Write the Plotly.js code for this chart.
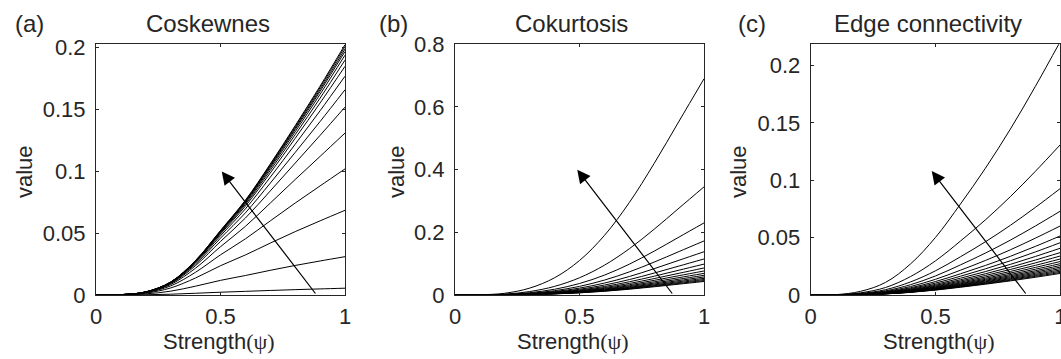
<!DOCTYPE html>
<html><head><meta charset="utf-8">
<script src="https://cdn.plot.ly/plotly-3.0.1.min.js"></script>
<style>html,body{margin:0;padding:0;background:#fff;}#chart{width:1061px;height:359px;}</style>
</head><body><div id="chart"></div>
<script>
// ---------- data ----------
const psi = [0, 0.1, 0.2, 0.3, 0.4, 0.5, 0.6, 0.7, 0.8, 0.9, 1];

const coskewCurves = [
  [0, 0.00004, 0.0002, 0.00064, 0.00141, 0.00226, 0.00295, 0.00367, 0.00433, 0.00493, 0.0055],
  [0, 0.00014, 0.0009, 0.0031, 0.00715, 0.01184, 0.01576, 0.01997, 0.02391, 0.02753, 0.031],
  [0, 0.00022, 0.00153, 0.0057, 0.01379, 0.02368, 0.0324, 0.042, 0.05127, 0.05999, 0.0685],
  [0, 0.00025, 0.0019, 0.00737, 0.01843, 0.03249, 0.04543, 0.05998, 0.07437, 0.08825, 0.102],
  [0, 0.00027, 0.00212, 0.0085, 0.02175, 0.03907, 0.05552, 0.07438, 0.09341, 0.11214, 0.131],
  [0, 0.00028, 0.00226, 0.00919, 0.02383, 0.04333, 0.06225, 0.08421, 0.1067, 0.12915, 0.152],
  [0, 0.00029, 0.00233, 0.00959, 0.02509, 0.04597, 0.06648, 0.0905, 0.11532, 0.14033, 0.166],
  [0, 0.00029, 0.00239, 0.00988, 0.02602, 0.04794, 0.06968, 0.0953, 0.12197, 0.14905, 0.177],
  [0, 0.00029, 0.00243, 0.01009, 0.02667, 0.04933, 0.07194, 0.09873, 0.12675, 0.15535, 0.185],
  [0, 0.0003, 0.00245, 0.01021, 0.02706, 0.05017, 0.07333, 0.10083, 0.1297, 0.15926, 0.19],
  [0, 0.0003, 0.00247, 0.01031, 0.02737, 0.05083, 0.07442, 0.1025, 0.13206, 0.16239, 0.194],
  [0, 0.0003, 0.00248, 0.01038, 0.02759, 0.05132, 0.07523, 0.10375, 0.13381, 0.16473, 0.197],
  [0, 0.0003, 0.00249, 0.01042, 0.02774, 0.05164, 0.07577, 0.10457, 0.13497, 0.16628, 0.199],
  [0, 0.0003, 0.00249, 0.01047, 0.02789, 0.05196, 0.0763, 0.10539, 0.13613, 0.16783, 0.201],
  [0, 0.0003, 0.0025, 0.0105, 0.028, 0.0522, 0.0767, 0.106, 0.137, 0.169, 0.2025]
];

const cokurtCurves = [
  [0, 0.0007, 0.0055, 0.022, 0.055, 0.11, 0.19, 0.295, 0.42, 0.555, 0.69],
  [0, 0.00035, 0.00275, 0.011, 0.0275, 0.055, 0.095, 0.1475, 0.21, 0.2775, 0.345],
  [0, 0.00023, 0.00183, 0.00733, 0.01833, 0.03667, 0.06333, 0.09833, 0.14, 0.185, 0.23],
  [0, 0.00018, 0.00138, 0.0055, 0.01375, 0.0275, 0.0475, 0.07375, 0.105, 0.13875, 0.1725],
  [0, 0.00014, 0.0011, 0.0044, 0.011, 0.022, 0.038, 0.059, 0.084, 0.111, 0.138],
  [0, 0.00012, 0.00092, 0.00367, 0.00917, 0.01833, 0.03167, 0.04917, 0.07, 0.0925, 0.115],
  [0, 0.0001, 0.00079, 0.00314, 0.00786, 0.01571, 0.02714, 0.04214, 0.06, 0.07929, 0.09857],
  [0, 0.00009, 0.00069, 0.00275, 0.00688, 0.01375, 0.02375, 0.03688, 0.0525, 0.06938, 0.08625],
  [0, 0.00008, 0.00061, 0.00244, 0.00611, 0.01222, 0.02111, 0.03278, 0.04667, 0.06167, 0.07667],
  [0, 0.00007, 0.00055, 0.0022, 0.0055, 0.011, 0.019, 0.0295, 0.042, 0.0555, 0.069],
  [0, 0.00006, 0.0005, 0.002, 0.005, 0.01, 0.01727, 0.02682, 0.03818, 0.05045, 0.06273],
  [0, 0.00006, 0.00046, 0.00183, 0.00458, 0.00917, 0.01583, 0.02458, 0.035, 0.04625, 0.0575],
  [0, 0.00005, 0.00042, 0.00169, 0.00423, 0.00846, 0.01462, 0.02269, 0.03231, 0.04269, 0.05308],
  [0, 0.00005, 0.00039, 0.00157, 0.00393, 0.00786, 0.01357, 0.02107, 0.03, 0.03964, 0.04929],
  [0, 0.00005, 0.00037, 0.00147, 0.00367, 0.00733, 0.01267, 0.01967, 0.028, 0.037, 0.046],
  [0, 0.00004, 0.00034, 0.00138, 0.00344, 0.00688, 0.01188, 0.01844, 0.02625, 0.03469, 0.04313]
];

const edgeCurves = [
  [0, 0.0003, 0.0032, 0.011, 0.0271, 0.0502, 0.0793, 0.1105, 0.1446, 0.1818, 0.221],
  [0, 0.00018, 0.0019, 0.00655, 0.01607, 0.02978, 0.04703, 0.0655, 0.08574, 0.10777, 0.131],
  [0, 0.00013, 0.00135, 0.00464, 0.01139, 0.02109, 0.03332, 0.0464, 0.06074, 0.07635, 0.0928],
  [0, 0.0001, 0.00106, 0.00366, 0.00897, 0.01662, 0.02624, 0.03655, 0.04784, 0.06014, 0.0731],
  [0, 0.00008, 0.00087, 0.00301, 0.00739, 0.01368, 0.02161, 0.0301, 0.0394, 0.04953, 0.0602],
  [0, 0.00007, 0.00075, 0.00258, 0.00632, 0.01171, 0.01849, 0.02575, 0.03371, 0.04237, 0.0515],
  [0, 0.00006, 0.00066, 0.00228, 0.0056, 0.01036, 0.01637, 0.0228, 0.02985, 0.03752, 0.0456],
  [0, 0.00006, 0.00059, 0.00204, 0.00501, 0.00927, 0.01465, 0.0204, 0.0267, 0.03357, 0.0408],
  [0, 0.00005, 0.00054, 0.00185, 0.00454, 0.00841, 0.01328, 0.0185, 0.02422, 0.03044, 0.037],
  [0, 0.00005, 0.00049, 0.0017, 0.00417, 0.00773, 0.01221, 0.017, 0.02225, 0.02797, 0.034],
  [0, 0.00004, 0.00046, 0.00157, 0.00385, 0.00714, 0.01127, 0.0157, 0.02055, 0.02583, 0.0314],
  [0, 0.00004, 0.00042, 0.00146, 0.00358, 0.00664, 0.01048, 0.0146, 0.01911, 0.02402, 0.0292],
  [0, 0.00004, 0.0004, 0.00137, 0.00335, 0.00621, 0.0098, 0.01365, 0.01787, 0.02246, 0.0273],
  [0, 0.00004, 0.00037, 0.00129, 0.00315, 0.00584, 0.00923, 0.01285, 0.01682, 0.02114, 0.0257],
  [0, 0.00003, 0.00035, 0.00122, 0.00298, 0.00552, 0.00872, 0.01215, 0.0159, 0.01999, 0.0243],
  [0, 0.00003, 0.00033, 0.00115, 0.00282, 0.00523, 0.00826, 0.0115, 0.01505, 0.01892, 0.023],
  [0, 0.00003, 0.00032, 0.00109, 0.00267, 0.00496, 0.00783, 0.0109, 0.01427, 0.01793, 0.0218],
  [0, 0.00003, 0.0003, 0.00104, 0.00254, 0.00471, 0.00743, 0.01035, 0.01355, 0.01703, 0.0207],
  [0, 0.00003, 0.00029, 0.00099, 0.00242, 0.00448, 0.00707, 0.00985, 0.01289, 0.01621, 0.0197],
  [0, 0.00003, 0.00027, 0.00094, 0.00231, 0.00427, 0.00675, 0.0094, 0.0123, 0.01547, 0.0188]
];

// arrows: [tail x, tail y], [head x, head y] in data units
const arrowTailA = [0.886, 0], arrowHeadA = [0.505, 0.1];
const arrowTailB = [0.877, 0], arrowHeadB = [0.491, 0.4];
const arrowTailC = [0.866, 0], arrowHeadC = [0.485, 0.108];

const panelLabels = ['(a)', '(b)', '(c)'];
const panelTitles = ['Coskewnes', 'Cokurtosis', 'Edge connectivity'];
const xTickVals = [0, 0.5, 1];
const xTickText = ['0', '0.5', '1'];
const yTickValsA = [0, 0.05, 0.1, 0.15, 0.2];
const yTickTextA = ['0', '0.05', '0.1', '0.15', '0.2'];
const yTickValsB = [0, 0.2, 0.4, 0.6, 0.8];
const yTickTextB = ['0', '0.2', '0.4', '0.6', '0.8'];
const yTickValsC = [0, 0.05, 0.1, 0.15, 0.2];
const yTickTextC = ['0', '0.05', '0.1', '0.15', '0.2'];

// ---------- layout ----------
const W = 1061, H = 359;
const fx = v => v / W;
const fy = v => 1 - v / H;
const FONT = 'Liberation Sans, Arial, Helvetica, sans-serif';
const TXT = '#262626';

const frames = [[96, 345], [455, 704], [810.7, 1060.3]];
const yDom = [fy(295), fy(44.3)];

function xAx(i, anchor) {
  return {
    domain: [fx(frames[i][0]), fx(frames[i][1])], anchor: anchor, range: [0, 1],
    tickvals: xTickVals, ticktext: xTickText,
    showline: true, mirror: 'allticks', linecolor: '#262626', linewidth: 1,
    ticks: 'inside', ticklen: 3, tickwidth: 1, tickcolor: '#262626',
    showgrid: false, zeroline: false, fixedrange: true,
    tickfont: {family: FONT, size: 22, color: TXT}, ticklabelstandoff: 2,
    ticklabeloverflow: 'allow'
  };
}
function yAx(anchor, range, tv, tt) {
  return {
    domain: yDom, anchor: anchor, range: range, tickvals: tv, ticktext: tt,
    showline: true, mirror: 'allticks', linecolor: '#262626', linewidth: 1,
    ticks: 'inside', ticklen: 3, tickwidth: 1, tickcolor: '#262626',
    showgrid: false, zeroline: false, fixedrange: true,
    tickfont: {family: FONT, size: 22, color: TXT}, ticklabelstandoff: 5,
    ticklabeloverflow: 'allow'
  };
}

const traces = [];
function addCurves(curves, xa, ya) {
  curves.forEach(c => traces.push({
    x: psi, y: c, xaxis: xa, yaxis: ya, mode: 'lines',
    line: {color: '#000', width: 1, shape: 'spline', smoothing: 1},
    hoverinfo: 'skip', showlegend: false
  }));
}
addCurves(coskewCurves, 'x', 'y');
addCurves(cokurtCurves, 'x2', 'y2');
addCurves(edgeCurves, 'x3', 'y3');

function arrow(xa, ya, tail, head) {
  return {
    xref: xa, yref: ya, axref: xa, ayref: ya,
    x: head[0], y: head[1], ax: tail[0], ay: tail[1],
    text: '', showarrow: true, arrowhead: 2, arrowsize: 2.2, arrowwidth: 1.2,
    arrowcolor: '#000', standoff: 0, startstandoff: 0
  };
}
function txt(text, x, y, size, opts) {
  return Object.assign({
    xref: 'paper', yref: 'paper', x: fx(x), y: fy(y), text: text, showarrow: false,
    xanchor: 'center', yanchor: 'middle',
    font: {family: FONT, size: size, color: TXT}
  }, opts || {});
}
const xlab = 'Strength<span style="font-family:Liberation Serif">(ψ)</span>';

const annotations = [
  arrow('x', 'y', arrowTailA, arrowHeadA),
  arrow('x2', 'y2', arrowTailB, arrowHeadB),
  arrow('x3', 'y3', arrowTailC, arrowHeadC),
  txt(panelLabels[0], 13, 24, 24, {xanchor: 'left'}),
  txt(panelLabels[1], 377, 24, 24, {xanchor: 'left'}),
  txt(panelLabels[2], 736, 24, 24, {xanchor: 'left'}),
  txt(panelTitles[0], 208, 24, 24),
  txt(panelTitles[1], 571, 24, 24),
  txt(panelTitles[2], 928, 24, 24),
  txt('value', 24, 172, 22, {textangle: -90}),
  txt('value', 396, 172, 22, {textangle: -90}),
  txt('value', 738, 172, 22, {textangle: -90}),
  txt(xlab, 219, 341, 22),
  txt(xlab, 573, 341, 22),
  txt(xlab, 939, 341, 22)
];

const layout = {
  width: W, height: H, margin: {l: 0, r: 0, t: 0, b: 0, pad: 0},
  paper_bgcolor: '#fff', plot_bgcolor: '#fff', showlegend: false,
  xaxis: xAx(0, 'y'), xaxis2: xAx(1, 'y2'), xaxis3: xAx(2, 'y3'),
  yaxis: yAx('x', [0, 0.2028], yTickValsA, yTickTextA),
  yaxis2: yAx('x2', [0, 0.8], yTickValsB, yTickTextB),
  yaxis3: yAx('x3', [0, 0.2185], yTickValsC, yTickTextC),
  annotations: annotations
};

Plotly.newPlot('chart', traces, layout, {staticPlot: true, displayModeBar: false});
</script></body></html>
